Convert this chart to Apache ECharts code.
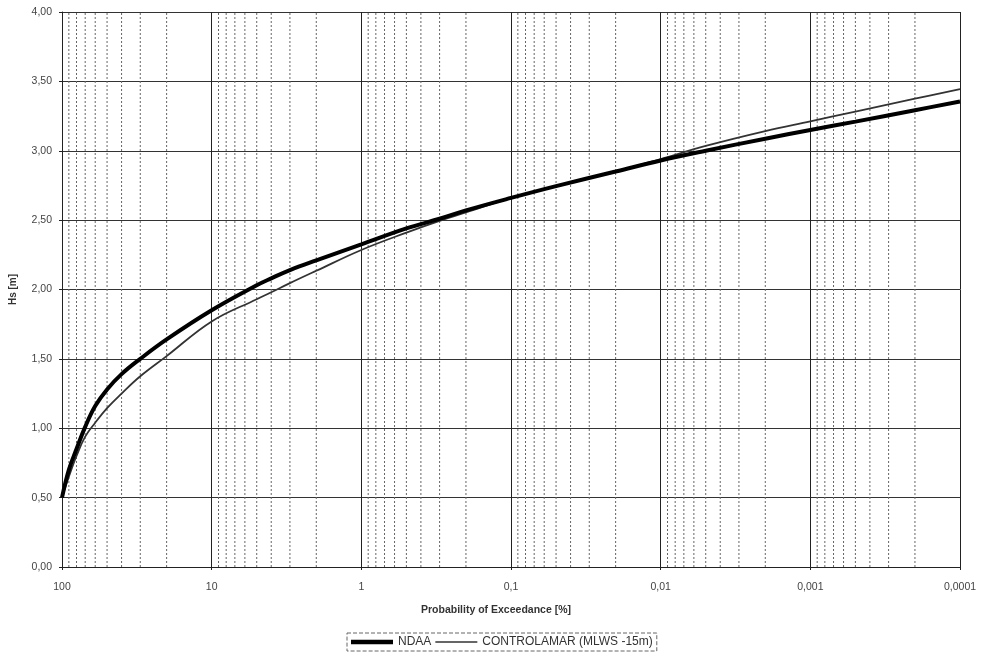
<!DOCTYPE html>
<html>
<head>
<meta charset="utf-8">
<script src="https://cdn.jsdelivr.net/npm/echarts@6/dist/echarts.min.js"></script>
<style>
  html, body { margin: 0; padding: 0; background: #fff; }
  #chart { width: 984px; height: 661px; }
</style>
</head>
<body>
<div id="chart"></div>
<script>
// probability of exceedance [%]
var probs = [100, 90, 80, 70, 60, 50, 40, 30, 20, 10, 5, 4, 3, 2, 1, 0.5, 0.3, 0.2, 0.1,
             0.05, 0.02, 0.01, 0.005, 0.002, 0.001, 0.0005, 0.0002, 0.0001]
// Hs [m]
var ndaa = [0.50, 0.70, 0.85, 1.01, 1.16, 1.28, 1.39, 1.50, 1.64, 1.85, 2.03, 2.08, 2.14, 2.21, 2.325, 2.44, 2.51, 2.57, 2.66,
            2.745, 2.85, 2.93, 3.00, 3.087, 3.15, 3.21, 3.292, 3.355]
var controlamar = [0.50, 0.65, 0.80, 0.94, 1.04, 1.145, 1.25, 1.375, 1.52, 1.77, 1.93, 1.98, 2.046, 2.135, 2.285, 2.41, 2.495, 2.555, 2.66,
                   2.745, 2.85, 2.94, 3.035, 3.142, 3.212, 3.282, 3.375, 3.445]
var seriesNames = ['NDAA', 'CONTROLAMAR (MLWS -15m)']

function pairs (ys) {
  var out = []
  for (var i = 0; i < probs.length; i++) out.push([probs[i], ys[i]])
  return out
}

// log paper minor lines at 2..9 x each decade
var minorLines = []
for (var k = -4; k < 2; k++) {
  for (var m = 2; m <= 9; m++) {
    minorLines.push([m * Math.pow(10, k)])
  }
}

function fmtX (v) {
  var e = Math.round(Math.log10(v))
  if (e >= 0) return String(Math.pow(10, e))
  return '0,' + '0'.repeat(-e - 1) + '1'
}

var chart = echarts.init(document.getElementById('chart'))
var font = 'Liberation Sans, Arial, sans-serif'
chart.setOption({
  animation: false,
  textStyle: { fontFamily: font },
  grid: { left: 61, right: 24, top: 12, bottom: 94 },
  legend: {
    data: [
      { name: seriesNames[0], icon: 'path://M0,0H42V4.5H0Z' },
      { name: seriesNames[1], icon: 'path://M0,0H42V1.6H0Z' },
    ],
    top: 633,
    left: 347,
    itemWidth: 42,
    itemHeight: 12,
    itemGap: 4,
    padding: [3, 4],
    borderColor: '#666',
    borderWidth: 1,
    borderType: 'dashed',
    textStyle: { fontSize: 12, color: '#333', fontFamily: font },
  },
  xAxis: {
    type: 'log',
    logBase: 10,
    min: 0.0001,
    max: 100,
    inverse: true,
    splitNumber: 6,
    name: 'Probability of Exceedance [%]',
    nameLocation: 'middle',
    nameGap: 38,
    nameTextStyle: { fontSize: 10.5, fontWeight: 'bold', color: '#333', padding: [0, 30, 0, 0] },
    axisLine: { lineStyle: { color: '#222' } },
    axisTick: { show: true, length: 3, lineStyle: { color: '#222' } },
    axisLabel: { fontSize: 10.5, color: '#444', margin: 15, formatter: fmtX },
    splitLine: { show: true, lineStyle: { color: '#222', width: 1 } },
  },
  yAxis: {
    type: 'value',
    min: 0,
    max: 4,
    interval: 0.5,
    name: 'Hs [m]',
    nameLocation: 'middle',
    nameGap: 44,
    nameTextStyle: { fontSize: 10, fontWeight: 'bold', color: '#333' },
    axisLine: { show: true, lineStyle: { color: '#222' } },
    axisTick: { show: true, length: 3, lineStyle: { color: '#222' } },
    axisLabel: { fontSize: 10.5, color: '#444', margin: 10,
      formatter: function (v) { return v.toFixed(2).replace('.', ',') } },
    splitLine: { show: true, lineStyle: { color: '#333', width: 1 } },
  },
  series: [
    {
      name: 'minor',
      type: 'custom',
      silent: true,
      z: 1,
      encode: { x: 0 },
      data: minorLines,
      renderItem: function (params, api) {
        var p0 = api.coord([api.value(0), 0])
        var p1 = api.coord([api.value(0), 4])
        return {
          type: 'line',
          shape: { x1: p0[0], y1: p0[1], x2: p1[0], y2: p1[1] },
          style: { stroke: '#666', lineWidth: 1, lineDash: [2, 2] },
        }
      },
    },
    {
      name: seriesNames[1],
      type: 'line',
      data: pairs(controlamar),
      smooth: 0.4,
      showSymbol: false,
      symbol: 'none',
      color: '#333',
      lineStyle: { color: '#333', width: 1.8 },
      z: 3,
    },
    {
      name: seriesNames[0],
      type: 'line',
      data: pairs(ndaa),
      smooth: 0.4,
      showSymbol: false,
      symbol: 'none',
      color: '#000',
      lineStyle: { color: '#000', width: 4 },
      z: 4,
    },
  ],
})
</script>
</body>
</html>
